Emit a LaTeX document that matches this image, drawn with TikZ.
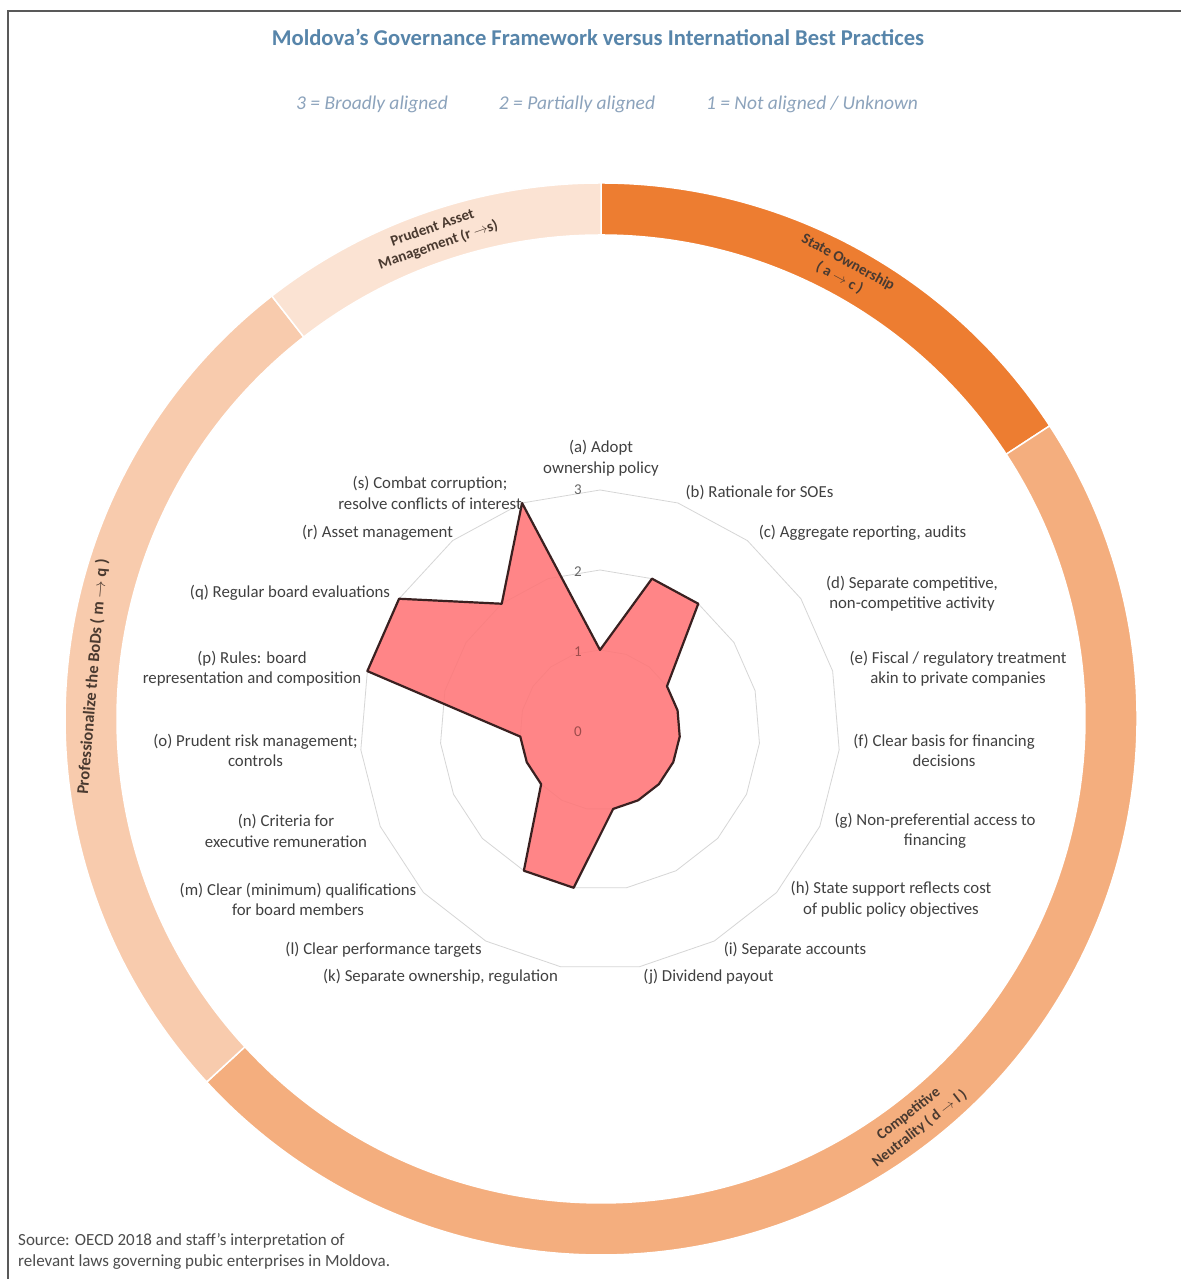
\documentclass[tikz,border=0pt]{standalone}
\usepackage{fontspec}
\setmainfont{Carlito}
\usetikzlibrary{calc}
\definecolor{titleblue}{HTML}{5785AA}
\definecolor{legendblue}{HTML}{8CA3BC}
\definecolor{segSO}{HTML}{ED7D31}
\definecolor{segCN}{HTML}{F4AE7E}
\definecolor{segPR}{HTML}{F8CBAD}
\definecolor{segPA}{HTML}{FBE3D3}
\definecolor{gridc}{HTML}{D6D6D6}
\definecolor{datafill}{HTML}{FF7577}
\definecolor{dataline}{HTML}{3A2020}
\definecolor{labelc}{HTML}{404040}
\definecolor{ringtext}{HTML}{4A3A30}
\tikzset{
  catlabel/.style={font=\fontsize{16.8}{20.5}\selectfont, text=labelc, align=center, inner sep=0pt},
  ticklabel/.style={font=\fontsize{15}{18}\selectfont, text=black!60, inner sep=0pt},
  ringlabel/.style={font=\bfseries\fontsize{15}{18}\selectfont, text=ringtext, align=center, inner sep=0pt},
  legendtext/.style={font=\itshape\fontsize{19.5}{23}\selectfont, text=legendblue, inner sep=0pt},
}
\newcommand\ringseg[3]{%
  \filldraw[fill=#1, draw=white, line width=1.5pt]
    ($(D)+(#2:536)$) arc[start angle=#2, end angle=#3, radius=536]
    -- ($(D)+(#3:484)$) arc[start angle=#3, end angle=#2, radius=484] -- cycle;}
\begin{document}
\begin{tikzpicture}[x=1pt,y=1pt]
\useasboundingbox (0,0) rectangle (1181,1279);
\fill[white] (0,0) rectangle (1181,1279);
% frame
\coordinate (fb) at (8,0);
\coordinate (fc) at (8,1268);
\coordinate (fr) at (1181,1268);
\draw[black!65, line width=2pt] (fb) -- (fc) -- (fr);
% title and legend
\node[font=\bfseries\fontsize{22.6}{26}\selectfont, text=titleblue] (title) at (598,1242) {Moldova's Governance Framework versus International Best Practices};
\node[legendtext] (l3) at (372,1175) {3 = Broadly aligned};
\node[legendtext] (l2) at (577,1175) {2 = Partially aligned};
\node[legendtext] (l1) at (812,1175) {1 = Not aligned / Unknown};
% ring
\coordinate (D) at (601,560);
\ringseg{segSO}{90}{33.16}
\ringseg{segCN}{33.16}{-137.37}
\ringseg{segPR}{-137.37}{-232.11}
\ringseg{segPA}{-232.11}{-270}
\node[ringlabel, rotate=-28.42] (rSO) at ($(D)+(61.58:510)$) {State Ownership\\( a \ensuremath{\rightarrow} c )};
\node[ringlabel, rotate=37.9] (rCN) at ($(D)+(-52.1:510)$) {Competitive\\Neutrality ( d \ensuremath{\rightarrow} l )};
\node[ringlabel, font=\bfseries\fontsize{16.5}{19}\selectfont, rotate=85.26] (rPR) at ($(D)+(175.26:510)$) {Professionalize the BoDs ( m \ensuremath{\rightarrow} q )};
\node[ringlabel, rotate=18.95] (rPA) at ($(D)+(108.95:510)$) {Prudent Asset\\Management (r \ensuremath{\rightarrow}s)};
% radar
\begin{scope}[shift={(600,549)}]
\foreach \r in {1,2,3}{
  \draw[gridc, line width=0.8pt] (90:\r*80) \foreach \k in {1,...,18}{ -- (90-\k*18.947:\r*80)} -- cycle;
}
\foreach \v [count=\i from 0] in {1,2,2,1,1,1,1,1,1,1,2,2,1,1,1,3,3,2,3}{
  \coordinate (v\i) at (90-\i*18.947:\v*80);
}
\fill[datafill, fill opacity=0.88] (v0) -- (v1) -- (v2) -- (v3) -- (v4) -- (v5) -- (v6) -- (v7) -- (v8) -- (v9) -- (v10) -- (v11) -- (v12) -- (v13) -- (v14) -- (v15) -- (v16) -- (v17) -- (v18) -- cycle;
\draw[dataline, line width=2.2pt, line join=round] (v0) -- (v1) -- (v2) -- (v3) -- (v4) -- (v5) -- (v6) -- (v7) -- (v8) -- (v9) -- (v10) -- (v11) -- (v12) -- (v13) -- (v14) -- (v15) -- (v16) -- (v17) -- (v18) -- cycle;
\end{scope}
\node[ticklabel] (t3) at (578,789) {3};
\node[ticklabel] (t2) at (578,707) {2};
\node[ticklabel, text=red!45!black!70] (t1) at (578,627) {1};
\node[ticklabel, text=red!45!black!70] (t0) at (578,547) {0};
% category labels
\node[catlabel] (ca) at (601,821) {(a) Adopt\\ownership policy};
\node[catlabel] (cb) at (759.5,786) {(b) Rationale for SOEs};
\node[catlabel] (cc) at (862.5,746) {(c) Aggregate reporting, audits};
\node[catlabel] (cd) at (912,685.5) {(d) Separate competitive,\\non-competitive activity};
\node[catlabel] (ce) at (958,610.5) {(e) Fiscal / regulatory treatment\\akin to private companies};
\node[catlabel] (cf) at (944,528.5) {(f) Clear basis for financing\\decisions};
\node[catlabel] (cg) at (935,448) {(g) Non-preferential access to\\financing};
\node[catlabel] (ch) at (891,379.5) {(h) State support reflects cost\\of public policy objectives};
\node[catlabel] (ci) at (795,329) {(i) Separate accounts};
\node[catlabel] (cj) at (708.5,302) {(j) Dividend payout};
\node[catlabel] (ck) at (440.5,302) {(k) Separate ownership, regulation};
\node[catlabel] (cl) at (383.5,329) {(l) Clear performance targets};
\node[catlabel] (cm) at (298,379.5) {(m) Clear (minimum) qualifications\\for board members};
\node[catlabel] (cn) at (286,448) {(n) Criteria for\\executive remuneration};
\node[catlabel] (co) at (255.5,528.5) {(o) Prudent risk management;\\controls};
\node[catlabel] (cp) at (252,610.5) {(p) Rules: board\\representation and composition};
\node[catlabel] (cq) at (290,686) {(q) Regular board evaluations};
\node[catlabel] (cr) at (377.5,746) {(r) Asset management};
\node[catlabel] (cs) at (430,786) {(s) Combat corruption;\\resolve conflicts of interest};
% source
\node[font=\fontsize{17}{21}\selectfont, text=black!70, align=left, anchor=west, inner sep=0pt] (src) at (18,27.5) {Source: OECD 2018 and staff's interpretation of\\relevant laws governing pubic enterprises in Moldova.};
\end{tikzpicture}
\end{document}
